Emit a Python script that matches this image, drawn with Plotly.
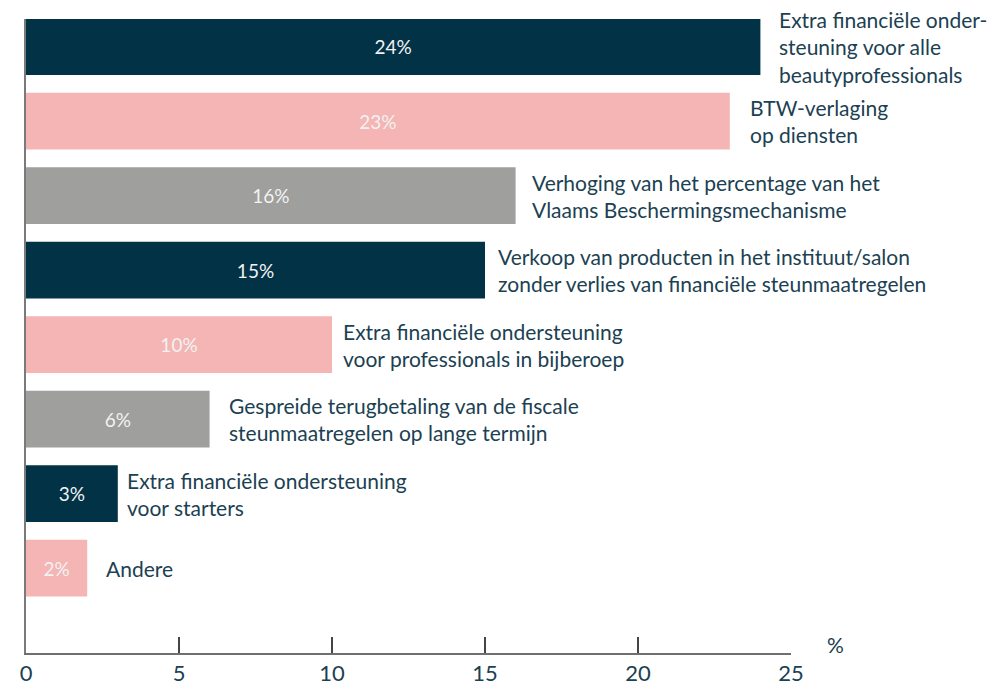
import plotly.graph_objects as go

categories = [
    "Extra financiële onder-<br>steuning voor alle<br>beautyprofessionals",
    "BTW-verlaging<br>op diensten",
    "Verhoging van het percentage van het<br>Vlaams Beschermingsmechanisme",
    "Verkoop van producten in het instituut/salon<br>zonder verlies van financiële steunmaatregelen",
    "Extra financiële ondersteuning<br>voor professionals in bijberoep",
    "Gespreide terugbetaling van de fiscale<br>steunmaatregelen op lange termijn",
    "Extra financiële ondersteuning<br>voor starters",
    "Andere",
]
values = [24, 23, 16, 15, 10, 6, 3, 2]
value_labels = ["24%", "23%", "16%", "15%", "10%", "6%", "3%", "2%"]
x_ticks = [0, 5, 10, 15, 20, 25]

NAVY = "#023246"
PINK = "#f4b5b4"
GREY = "#9f9f9d"
TEXT = "#1b4152"
colors = [NAVY, PINK, GREY, NAVY, PINK, GREY, NAVY, PINK]
label_shift = [17, 18, 14, 11, 9, 17, 7, 17]
FONT = "Lato"

fig = go.Figure()
fig.add_trace(go.Bar(
    x=values,
    y=categories,
    orientation="h",
    marker=dict(color=colors, line=dict(width=0)),
    width=0.76,
    text=value_labels,
    textposition="inside",
    insidetextanchor="middle",
    textfont=dict(family=FONT, size=19, color="#f2f2f2"),
    hoverinfo="skip",
))

for cat, v, s in zip(categories, values, label_shift):
    fig.add_annotation(
        x=v, y=cat, xref="x", yref="y",
        text=cat, showarrow=False,
        xanchor="left", yanchor="middle", align="left",
        xshift=s,
        font=dict(family=FONT, size=21, color=TEXT),
    )

fig.add_annotation(
    x=1, y=0, xref="paper", yref="paper",
    text="%", showarrow=False,
    xanchor="left", yanchor="bottom",
    xshift=34, yshift=-6,
    font=dict(family=FONT, size=21, color=TEXT),
)

fig.update_layout(
    width=997, height=677,
    margin=dict(l=18, r=214, t=11, b=32, autoexpand=False),
    paper_bgcolor="white",
    plot_bgcolor="white",
    showlegend=False,
    font=dict(family=FONT, color=TEXT),
)
fig.update_xaxes(
    range=[0, 25],
    tickvals=x_ticks,
    ticks="inside",
    ticklen=16,
    tickwidth=1.5,
    tickcolor="#444444",
    showline=True,
    linecolor="#6f6f6f",
    linewidth=1.5,
    showgrid=False,
    zeroline=False,
    automargin=False,
    tickfont=dict(family=FONT, size=22, color=TEXT),
)
fig.update_yaxes(
    type="category",
    categoryorder="array",
    categoryarray=categories,
    range=[8.14, -0.37],
    showticklabels=False,
    ticks="",
    showline=True,
    linecolor="#7a7a7a",
    linewidth=1.5,
    showgrid=False,
    zeroline=False,
    automargin=False,
)

fig.write_html("out.html")
